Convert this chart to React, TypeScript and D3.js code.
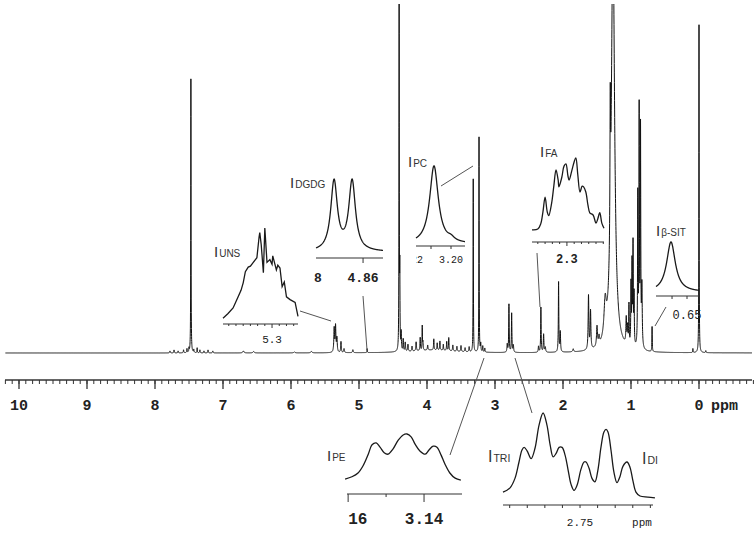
import React from "react";
import * as d3 from "d3";

const W = 754;
const H = 533;

// main 1H NMR spectrum: [ppm, intensity, half width (ppm)]
const mainPeaks: [number, number, number][] = [
  [7.78, 2, 0.005], [7.72, 3, 0.004], [7.66, 2, 0.004], [7.58, 3, 0.004],
  [7.53, 4, 0.004], [7.5, 4, 0.003], [7.472, 274, 0.0025], [7.43, 3, 0.004],
  [7.38, 5, 0.003], [7.34, 3, 0.004], [7.28, 2, 0.004], [7.22, 3, 0.004],
  [7.15, 2, 0.005], [6.7, 2, 0.01], [6.55, 1.5, 0.01], [5.95, 1, 0.01], [5.7, 1.5, 0.01],
  [5.365, 24, 0.006], [5.345, 26, 0.006], [5.325, 14, 0.006], [5.265, 11, 0.005],
  [5.22, 4, 0.006], [5.09, 3, 0.006], [4.88, 4, 0.003],
  [4.41, 360, 0.0025], [4.4, 75, 0.003], [4.38, 18, 0.004], [4.35, 12, 0.004],
  [4.32, 9, 0.005], [4.28, 7, 0.005], [4.22, 5, 0.005], [4.16, 9, 0.005],
  [4.1, 13, 0.004], [4.07, 24, 0.003], [4.06, 8, 0.004], [3.99, 5, 0.005],
  [3.9, 11, 0.004], [3.85, 7, 0.004], [3.81, 9, 0.004], [3.76, 6, 0.004],
  [3.71, 9, 0.004], [3.68, 13, 0.004], [3.62, 6, 0.005], [3.56, 5, 0.005],
  [3.5, 6, 0.005], [3.44, 4, 0.005], [3.38, 5, 0.005], [3.9, 3, 0.35],
  [3.32, 173, 0.0025], [3.235, 215, 0.0025], [3.21, 8, 0.004], [3.18, 6, 0.004],
  [3.15, 4, 0.004],
  [2.82, 8, 0.005], [2.795, 48, 0.004], [2.755, 39, 0.004], [2.73, 7, 0.005],
  [2.36, 6, 0.005], [2.325, 45, 0.004], [2.285, 18, 0.005], [2.26, 5, 0.006],
  [2.065, 70, 0.004], [2.04, 20, 0.005], [1.85, 3, 0.008],
  [1.625, 54, 0.006], [1.595, 38, 0.006], [1.5, 20, 0.008], [1.47, 8, 0.008],
  [1.38, 35, 0.02], [1.305, 130, 0.005], [1.265, 420, 0.028],
  [1.07, 26, 0.006], [1.05, 18, 0.006], [1.03, 40, 0.004], [1.0, 60, 0.004],
  [0.985, 80, 0.004], [0.97, 100, 0.004], [0.955, 50, 0.004],
  [0.9, 150, 0.004], [0.88, 235, 0.004], [0.86, 216, 0.004], [0.84, 60, 0.006],
  [0.69, 25, 0.003], [0.09, 4, 0.003], [0.0, 328, 0.0025], [-0.1, 2, 0.004],
];
const mainMajorTicks = [10, 9, 8, 7, 6, 5, 4, 3, 2, 1, 0];

// insets
const unsTrace: [number, number][] = [
  [5.368, 3], [5.361, 8], [5.354, 14], [5.347, 26], [5.343, 33], [5.34, 41],
  [5.337, 53], [5.333, 58], [5.33, 59], [5.326, 63], [5.321, 68], [5.318, 90],
  [5.317, 95], [5.315, 82], [5.312, 52], [5.31, 100], [5.307, 63], [5.303, 66],
  [5.3, 61], [5.299, 70], [5.294, 55], [5.292, 60], [5.289, 57], [5.286, 37],
  [5.283, 42], [5.28, 26], [5.275, 23], [5.268, 20], [5.264, 5],
];
const unsTicks = [5.36, 5.35, 5.34, 5.33, 5.32, 5.31, 5.3, 5.29, 5.28, 5.27];
const unsLabels: [number, string][] = [[5.3, "5.3"]];

const dgdgPeaks: [number, number, number][] = [[4.8738, 95.5, 0.0019], [4.8652, 95.5, 0.0019]];
const dgdgTicks = [4.86];
const dgdgLabels: [number, string][] = [[4.8815, "8"], [4.86, "4.86"]];

const pcPeaks: [number, number, number][] = [[3.2085, 100, 0.0026], [3.2, 4, 0.002]];
const pcTicks = [3.21, 3.2];
const pcLabels: [number, string][] = [[3.22, "3.22"], [3.2, "3.20"]];

const faTrace: [number, number][] = [
  [2.348, 3], [2.34, 4], [2.336, 11], [2.333, 27], [2.33, 47], [2.327, 27],
  [2.325, 22], [2.321, 39], [2.318, 62], [2.315, 84], [2.312, 70], [2.311, 61],
  [2.307, 74], [2.304, 89], [2.3014, 92], [2.2986, 76], [2.297, 70], [2.293, 84],
  [2.29, 95], [2.2877, 100], [2.285, 77], [2.282, 54], [2.279, 62], [2.277, 61],
  [2.274, 54], [2.271, 36], [2.2685, 26], [2.264, 23], [2.26, 12], [2.2575, 18],
  [2.2548, 26], [2.252, 12], [2.249, 5],
];
const faTicks = [2.34, 2.33, 2.32, 2.31, 2.3, 2.29, 2.28, 2.27, 2.26, 2.25];
const faLabels: [number, string][] = [[2.3, "2.3"]];

const sitPeaks: [number, number, number][] = [[0.6607, 100, 0.0035]];
const sitTicks = [0.66, 0.65];
const sitLabels: [number, string][] = [[0.65, "0.65"]];

const peTrace: [number, number][] = [
  [3.1608, 4], [3.159, 9], [3.1574, 17], [3.1561, 32], [3.1547, 57], [3.1537, 77],
  [3.1526, 81], [3.1516, 72], [3.1505, 60], [3.1495, 57], [3.1482, 68], [3.1468, 87],
  [3.1455, 98], [3.1445, 100], [3.1434, 94], [3.1424, 79], [3.1411, 64], [3.1397, 57],
  [3.1387, 66], [3.1376, 74], [3.1366, 72], [3.1355, 55], [3.1345, 36], [3.1332, 17],
  [3.1318, 6], [3.1303, 2],
];
const peTicks = [3.16, 3.15, 3.14];
const peLabels: [number, string][] = [[3.16, "3.16"], [3.14, "3.14"]];

const triTrace: [number, number][] = [
  [2.7938, 8], [2.7898, 13], [2.787, 24], [2.7847, 43], [2.783, 57], [2.7818, 60],
  [2.7801, 56], [2.7778, 47], [2.7756, 59], [2.7733, 86], [2.771, 100], [2.7688, 86],
  [2.767, 63], [2.7653, 49], [2.7636, 53], [2.7619, 60], [2.7602, 60], [2.7585, 51],
  [2.7568, 34], [2.7551, 17], [2.7534, 10], [2.7517, 16], [2.7494, 35], [2.7477, 43],
  [2.7466, 43], [2.7449, 36], [2.7432, 24], [2.7415, 20], [2.7398, 34], [2.7381, 60],
  [2.7364, 78], [2.7352, 81], [2.7341, 78], [2.7324, 57], [2.7307, 31], [2.729, 19],
  [2.7273, 26], [2.7256, 38], [2.7233, 43], [2.7216, 37], [2.7199, 21], [2.7182, 8],
  [2.7159, 3.5], [2.7114, 2.3], [2.7074, 1.2],
];
const triTicks = [2.79, 2.78, 2.77, 2.76, 2.75, 2.74, 2.73, 2.72, 2.71];
const triLabels: [number, string][] = [[2.75, "2.75"]];

type Inset = {
  sub: string;
  domain: [number, number];
  xr: [number, number];
  yr: [number, number];
  axisY: number;
  trace?: [number, number][];
  peaks?: [number, number, number][];
  curve?: d3.CurveFactory;
  ticks: number[];
  labels: [number, string][];
  minorLen: number;
  majorLen: number;
  labelY: number;
  labelSize: number;
  labelBold?: boolean;
  title: [number, number];
  titleSize: number;
  subSize: number;
  leader: [number, number, number, number];
  clipX?: number;
};

const insets: Inset[] = [
  {
    sub: "UNS", domain: [5.368, 5.264], xr: [223, 298], yr: [321, 228], axisY: 324,
    trace: unsTrace, curve: d3.curveLinear, ticks: unsTicks, labels: unsLabels,
    minorLen: 2, majorLen: 4, labelY: 343, labelSize: 11, title: [214, 257],
    titleSize: 15, subSize: 10, leader: [300, 311, 331, 321],
  },
  {
    sub: "DGDG", domain: [4.8824, 4.8505], xr: [316, 383], yr: [252, 179], axisY: 258,
    peaks: dgdgPeaks, ticks: dgdgTicks, labels: dgdgLabels,
    minorLen: 5, majorLen: 5, labelY: 282, labelSize: 13, labelBold: true, title: [290, 188],
    titleSize: 15, subSize: 10, leader: [363, 296, 367, 350],
  },
  {
    sub: "PC", domain: [3.2175, 3.193], xr: [416, 465], yr: [244, 166], axisY: 246,
    peaks: pcPeaks, ticks: pcTicks, labels: pcLabels,
    minorLen: 3, majorLen: 3, labelY: 263, labelSize: 10, title: [408, 167],
    titleSize: 15, subSize: 10, leader: [441, 186, 473, 166], clipX: 416,
  },
  {
    sub: "FA", domain: [2.348, 2.249], xr: [532, 604], yr: [232, 158], axisY: 242,
    trace: faTrace, curve: d3.curveCatmullRom, ticks: faTicks, labels: faLabels,
    minorLen: 2, majorLen: 4, labelY: 263, labelSize: 12, labelBold: true, title: [540, 157],
    titleSize: 15, subSize: 10, leader: [537, 253, 540, 307],
  },
  {
    sub: "β-SIT", domain: [0.6707, 0.642], xr: [656, 699], yr: [292, 242], axisY: 296,
    peaks: sitPeaks, ticks: sitTicks, labels: sitLabels,
    minorLen: 3, majorLen: 3, labelY: 319, labelSize: 12, title: [656, 236],
    titleSize: 15, subSize: 10, leader: [666, 307, 655, 326],
  },
  {
    sub: "PE", domain: [3.1603, 3.13], xr: [347, 462], yr: [481, 434], axisY: 494,
    trace: peTrace, curve: d3.curveCatmullRom, ticks: peTicks, labels: peLabels,
    minorLen: 3, majorLen: 8, labelY: 524, labelSize: 16, labelBold: true, title: [327, 461],
    titleSize: 15, subSize: 10, leader: [450, 455, 484, 358], clipX: 346,
  },
  {
    sub: "TRI", domain: [2.7938, 2.7085], xr: [503, 653], yr: [499, 413], axisY: 505,
    trace: triTrace, curve: d3.curveCatmullRom, ticks: triTicks, labels: triLabels,
    minorLen: 3, majorLen: 3, labelY: 526, labelSize: 11, title: [488, 462],
    titleSize: 16, subSize: 10.5, leader: [532, 413, 515, 358],
  },
];

const lorentz = (p: number, peaks: [number, number, number][]) =>
  peaks.reduce((s, [c, h, w]) => s + h / (1 + ((p - c) / w) ** 2), 0);

const MONO = "'Liberation Mono', 'DejaVu Sans Mono', monospace";
const SANS = "'Liberation Sans', Arial, sans-serif";

function InsetView({ d, i }: { d: Inset; i: number }) {
  const x = d3.scaleLinear().domain(d.domain).range(d.xr);
  const y = d3.scaleLinear().domain([0, 100]).range(d.yr);
  let pts: [number, number][];
  if (d.trace) pts = d.trace;
  else {
    const grid = d3.range(0, 301).map((k) => d.domain[0] + ((d.domain[1] - d.domain[0]) * k) / 300);
    pts = grid.map((p) => [p, lorentz(p, d.peaks!)]);
  }
  const line = d3
    .line<[number, number]>()
    .x((p) => x(p[0]))
    .y((p) => y(p[1]))
    .curve(d.curve || d3.curveLinear);
  const majors = new Set(d.labels.map((l) => l[0]));
  const clipId = `inset-clip-${i}`;
  return (
    <g>
      {d.clipX !== undefined && (
        <clipPath id={clipId}>
          <rect x={d.clipX} y={0} width={W} height={H} />
        </clipPath>
      )}
      <path d={line(pts) || ""} fill="none" stroke="#1a1a1a" strokeWidth={1.3} />
      <line x1={d.xr[0]} x2={d.xr[1]} y1={d.axisY} y2={d.axisY} stroke="#333" strokeWidth={1.2} />
      {d.ticks.map((t) => (
        <line
          key={t}
          x1={x(t)}
          x2={x(t)}
          y1={d.axisY}
          y2={d.axisY + (majors.has(t) ? d.majorLen : d.minorLen)}
          stroke="#333"
          strokeWidth={1}
        />
      ))}
      <g clipPath={d.clipX !== undefined ? `url(#${clipId})` : undefined}>
        {d.labels.map(([v, s]) => (
          <text
            key={s}
            x={x(v)}
            y={d.labelY}
            textAnchor="middle"
            fontFamily={MONO}
            fontSize={d.labelSize}
            fontWeight={d.labelBold ? "bold" : "normal"}
            fill="#222"
          >
            {s}
          </text>
        ))}
      </g>
      <text x={d.title[0]} y={d.title[1]} fontFamily={SANS} fill="#333">
        <tspan fontSize={d.titleSize}>I</tspan>
        <tspan fontSize={d.subSize} dx={1}>{d.sub}</tspan>
      </text>
      <line
        x1={d.leader[0]}
        y1={d.leader[1]}
        x2={d.leader[2]}
        y2={d.leader[3]}
        stroke="#555"
        strokeWidth={1}
      />
    </g>
  );
}

export default function App() {
  const x = d3.scaleLinear().domain([10, 0]).range([19, 699]);
  const y = d3.scaleLinear().domain([0, 348]).range([353, 5]);

  const grid = d3
    .range(10.2, -0.78, -0.001)
    .concat(mainPeaks.map((p) => p[0]))
    .sort((a, b) => b - a);
  const spectrum: [number, number][] = grid.map((p) => [p, lorentz(p, mainPeaks)]);
  const line = d3
    .line<[number, number]>()
    .x((p) => x(p[0]))
    .y((p) => y(p[1]));

  const axisY = 380;
  const minorTicks = d3.range(102, -78, -1).map((k) => k / 10);

  return (
    <svg
      width={W}
      height={H}
      style={{ position: "absolute", left: 0, top: 0, background: "#fff" }}
    >
      <clipPath id="main-clip">
        <rect x={0} y={4} width={W} height={360} />
      </clipPath>
      <path
        d={line(spectrum) || ""}
        fill="none"
        stroke="#111"
        strokeWidth={1}
        clipPath="url(#main-clip)"
      />

      {/* main ppm axis */}
      <line x1={5} x2={752} y1={axisY} y2={axisY} stroke="#333" strokeWidth={1.5} />
      {minorTicks.map((t) => (
        <line key={t} x1={x(t)} x2={x(t)} y1={axisY} y2={axisY + 4} stroke="#333" strokeWidth={1} />
      ))}
      {mainMajorTicks.map((t) => (
        <g key={t}>
          <line x1={x(t)} x2={x(t)} y1={axisY} y2={axisY + 9} stroke="#333" strokeWidth={1.3} />
          <text
            x={x(t)}
            y={410}
            textAnchor="middle"
            fontFamily={MONO}
            fontWeight="bold"
            fontSize={15}
            fill="#222"
          >
            {t}
          </text>
        </g>
      ))}
      <text x={711} y={410} fontFamily={MONO} fontWeight="bold" fontSize={15} fill="#222">
        ppm
      </text>

      {insets.map((d, i) => (
        <InsetView key={d.sub} d={d} i={i} />
      ))}
      {/* extra labels of the bottom right inset */}
      <text x={642} y={464} fontFamily={SANS} fill="#333">
        <tspan fontSize={16}>I</tspan>
        <tspan fontSize={10.5} dx={1}>DI</tspan>
      </text>
      <text x={642} y={526} textAnchor="middle" fontFamily={MONO} fontSize={11} fill="#222">
        ppm
      </text>
    </svg>
  );
}
